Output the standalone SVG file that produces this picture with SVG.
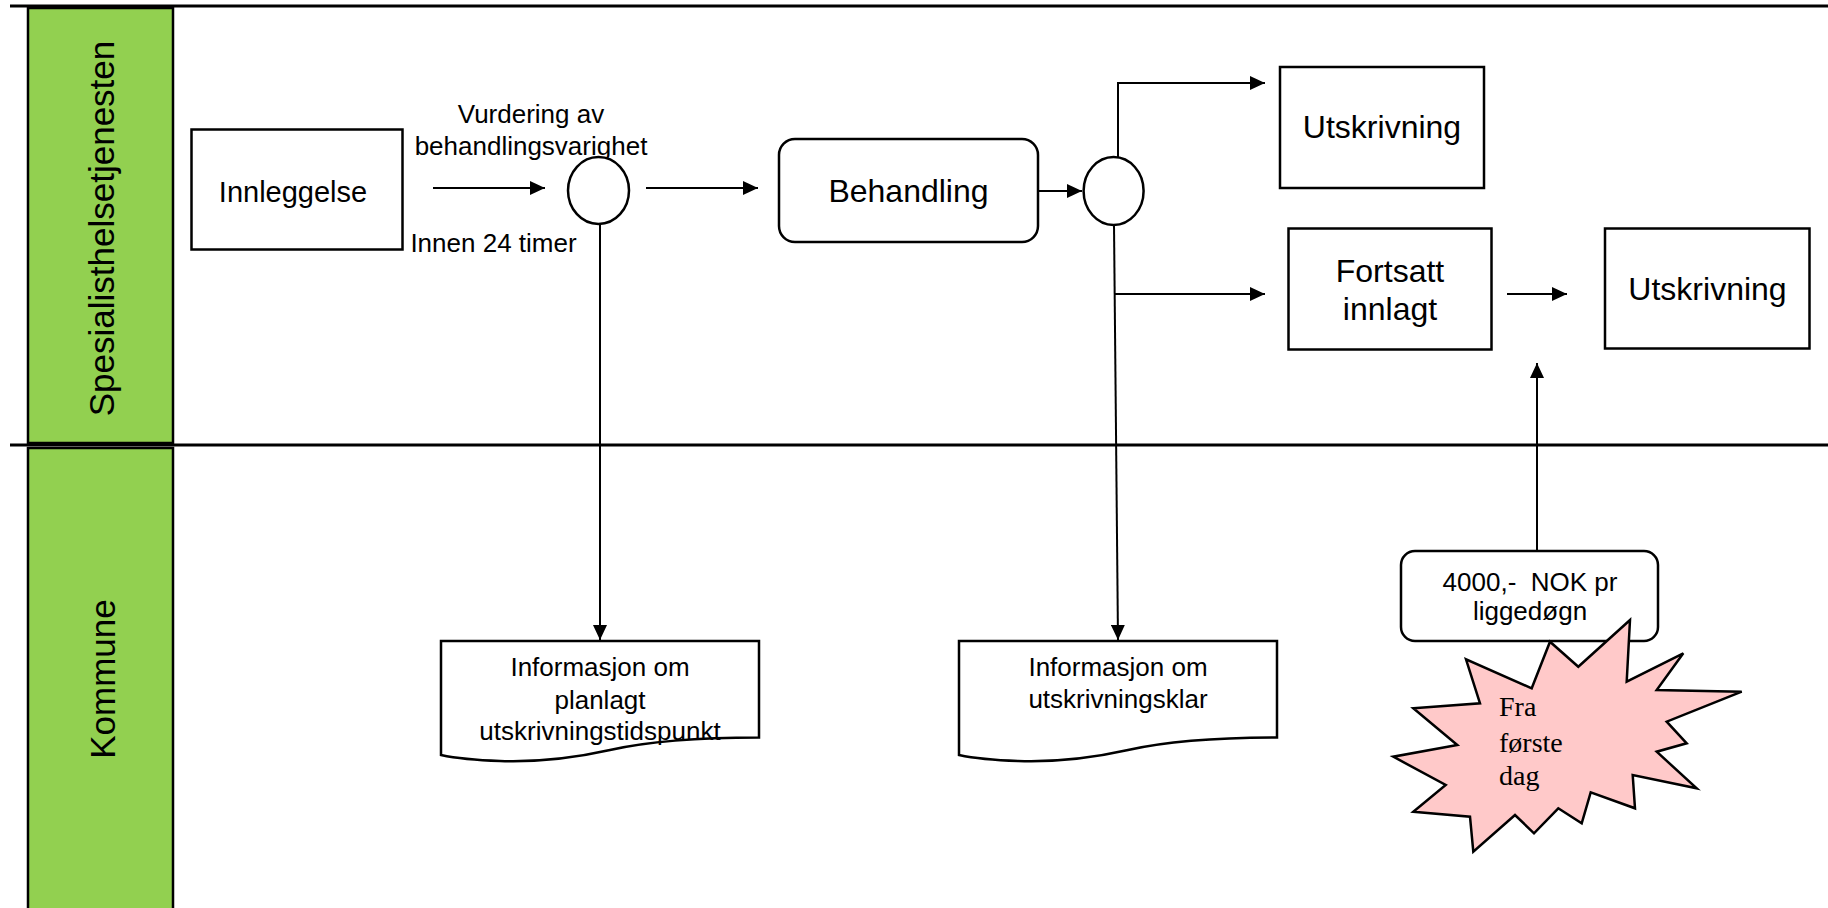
<svg xmlns="http://www.w3.org/2000/svg" width="1828" height="908" viewBox="0 0 1828 908">
<defs>
<marker id="ah" markerUnits="userSpaceOnUse" markerWidth="15" markerHeight="14" refX="15" refY="7" orient="auto">
<path d="M0,0 L15,7 L0,14 Z" fill="#000"/>
</marker>
<style>
.lane{fill:#92D050;stroke:#000;stroke-width:2.5}
.sep{stroke:#000;stroke-width:3;fill:none}
.box{fill:#fff;stroke:#000;stroke-width:2.5}
.con{fill:none;stroke:#000;stroke-width:2;marker-end:url(#ah)}
.t{font-family:"Liberation Sans",Arial,sans-serif;fill:#000;text-anchor:middle}
.lt{font-size:35px}
.nt{font-size:32px}
.st{font-size:26px}
.serif{font-family:"Liberation Serif","Times New Roman",serif;font-size:28px;fill:#000}
</style>
</defs>
<rect width="1828" height="908" fill="#fff"/>
<g id="lanes">
<line class="sep" x1="10" y1="6" x2="1828" y2="6"/>
<line class="sep" x1="10" y1="445" x2="1828" y2="445"/>
<rect class="lane" x="28" y="8" width="145" height="435"/>
<rect class="lane" x="28" y="448" width="145" height="470"/>
<text class="t lt" transform="translate(113.5,228.5) rotate(-90)">Spesialisthelsetjenesten</text>
<text class="t lt" transform="translate(115,679) rotate(-90)">Kommune</text>
</g>
<g id="connectors">
<path class="con" d="M433,188 H545"/>
<path class="con" d="M646,188 H758"/>
<path class="con" d="M1038,191 H1082"/>
<path class="con" d="M1118,158 V83 H1265"/>
<path class="con" d="M1114,225 L1118,640"/>
<path class="con" d="M1114,294 H1265"/>
<path class="con" d="M1507,294 H1567"/>
<path class="con" d="M1537,550 V363"/>
<path class="con" d="M600,224 V640"/>
</g>
<g id="labels">
<text class="t st" x="531" y="123">Vurdering av</text>
<text class="t st" x="531" y="155">behandlingsvarighet</text>
<text class="t st" x="493.5" y="251.5">Innen 24 timer</text>
</g>
<g id="innleggelse">
<rect class="box" x="191.5" y="129.5" width="211" height="120"/>
<text class="t" style="font-size:29px" x="293" y="201.5">Innleggelse</text>
</g>
<g id="decision1">
<ellipse class="box" cx="598.5" cy="190.5" rx="30.5" ry="33.5"/>
</g>
<g id="behandling">
<rect class="box" x="779" y="139" width="259" height="103" rx="16"/>
<text class="t nt" x="908.5" y="202">Behandling</text>
</g>
<g id="decision2">
<ellipse class="box" cx="1113.6" cy="191" rx="30" ry="34"/>
</g>
<g id="utskrivning1">
<rect class="box" x="1280" y="67" width="204" height="121"/>
<text class="t nt" x="1382" y="138">Utskrivning</text>
</g>
<g id="fortsatt">
<rect class="box" x="1288.5" y="228.5" width="203" height="121"/>
<text class="t nt" x="1390" y="282">Fortsatt</text>
<text class="t nt" x="1390" y="320">innlagt</text>
</g>
<g id="utskrivning2">
<rect class="box" x="1605" y="228.5" width="204.5" height="120"/>
<text class="t nt" x="1707.5" y="300">Utskrivning</text>
</g>
<g id="doc1">
<path class="box" d="M441,641 H759 V737.5 C700,737.5 650,741 610,750 C570,759 530,762 500,761 C470,760 455,758 441,755 Z"/>
<text class="t st" x="600" y="676">Informasjon om</text>
<text class="t st" x="600" y="709">planlagt</text>
<text class="t st" x="600" y="740">utskrivningstidspunkt</text>
</g>
<g id="doc2">
<path class="box" d="M959,641 H1277 V737.5 C1218,737.5 1168,741 1128,750 C1088,759 1048,762 1018,761 C988,760 973,758 959,755 Z"/>
<text class="t st" x="1118" y="676">Informasjon om</text>
<text class="t st" x="1118" y="708">utskrivningsklar</text>
</g>
<g id="cost">
<rect class="box" x="1401" y="551" width="257" height="90" rx="14"/>
<text class="t st" x="1530" y="591" style="white-space:pre">4000,-  NOK pr</text>
<text class="t st" x="1530" y="620">liggedøgn</text>
</g>
<g id="starburst">
<polygon fill="#FFC9C9" stroke="#000" stroke-width="2.5" stroke-linejoin="miter" points="1630,620 1626.7,681.7 1683.3,653.3 1656.7,690 1741.7,691.7 1666.7,721.7 1686.7,743.3 1656.7,751.7 1696.7,788.3 1632.7,775 1635,808.3 1590.7,792.3 1581.7,823.3 1558.3,808.3 1534,833.3 1515,815 1473.3,851.7 1470,816.7 1413.3,811.7 1445.7,785 1393.3,756.7 1457.3,745 1413.3,708.3 1480,703.3 1466,659.3 1531.7,688.3 1550,641.7 1578.3,666.7"/>
<text class="serif" x="1499" y="716">Fra</text>
<text class="serif" x="1499" y="752">første</text>
<text class="serif" x="1499" y="785">dag</text>
</g>
</svg>
